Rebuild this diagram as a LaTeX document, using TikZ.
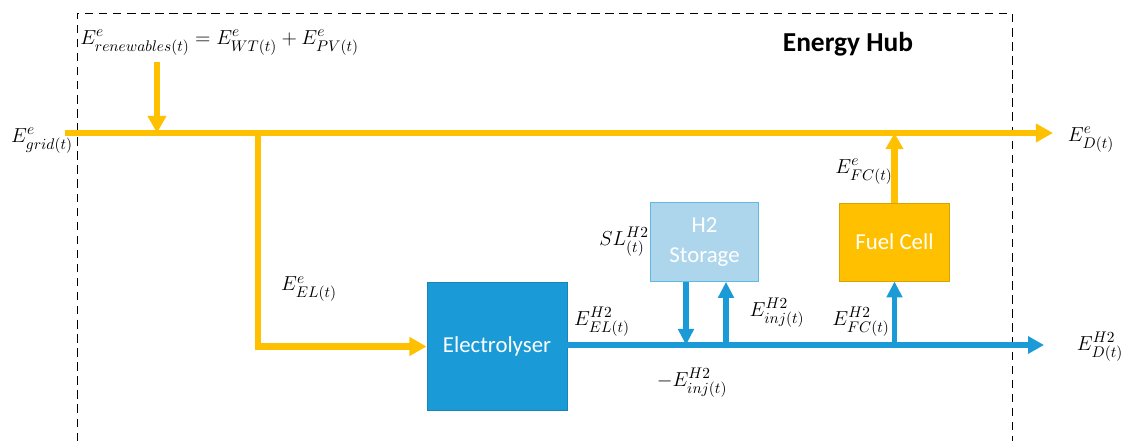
\documentclass[tikz,border=0pt]{standalone}
\usepackage{fontspec}
\setsansfont{Carlito}
\usepackage{amsmath}
\usetikzlibrary{arrows.meta,positioning}
\DeclareMathSizes{14}{14}{10.5}{8}
\definecolor{powerY}{HTML}{FFC000}
\definecolor{gasB}{HTML}{1A9BD7}
\definecolor{storeB}{HTML}{ADD6EC}
\colorlet{gasEdge}{gasB!85!black}
\colorlet{storeEdge}{gasB!70!white}
\colorlet{cellEdge}{powerY!85!black}

\begin{document}
\begin{tikzpicture}[x=0.025cm,y=-0.025cm,
    lbl/.style={font=\fontsize{14}{16}\selectfont, inner sep=0pt},
    unit/.style={draw, line width=0.6pt, text=white, align=center,
      font=\sffamily\fontsize{16.2}{19}\selectfont},
    ypipe/.style={powerY, line width=0.16cm},
    bpipe/.style={gasB, line width=0.14cm}]
        \useasboundingbox (0,0) rectangle (1121,441);
        % Hub frame (open at the bottom)
        \draw[black, line width=0.6pt, dash pattern=on 6pt off 4pt]
          (77,441) -- (77,13) -- (1012,13) -- (1012,441);
        \node[font=\sffamily\bfseries\fontsize{19.5}{22}\selectfont] (hub) at (848,44) {Energy Hub};
        % Units
        \node[unit, fill=gasB, draw=gasEdge, minimum width=3.5cm, minimum height=3.22cm] (elec) at (497,346.5) {Electrolyser};
        \node[unit, fill=storeB, draw=storeEdge, minimum width=2.72cm, minimum height=1.97cm] (store) at (704.5,242) {H2\\[2pt]Storage};
        \node[unit, fill=powerY, draw=cellEdge, minimum width=2.75cm, minimum height=1.95cm] (cell) at (894.5,242) {Fuel Cell};
        % Electricity bus
        \coordinate (gridin) at (65,133);
        \coordinate (loadE) at (1053,133);
        \coordinate (tap) at (258,133);
        \coordinate (renewA) at (157,62);
        \coordinate (renewB) at (157,133);
        \draw[ypipe, -{Triangle[length=0.43cm, width=0.45cm]}] (gridin) -- (loadE);
        \draw[ypipe, -{Triangle[length=0.43cm, width=0.45cm]}] (renewA) -- (renewB);
        \draw[ypipe, -{Triangle[length=0.43cm, width=0.45cm]}] (tap) |- (elec.west);
        \draw[ypipe, -{Triangle[length=0.4cm, width=0.42cm]}] (cell.north) -- (cell.north |- gridin);
        % Hydrogen bus
        \coordinate (hout) at (567,345);
        \coordinate (loadH) at (1044,345);
        \coordinate (sdown) at (686,345);
        \coordinate (sup) at (726,345);
        \coordinate (fcin) at (894.5,345);
        \draw[bpipe, -{Triangle[length=0.4cm, width=0.42cm]}] (hout) -- (loadH);
        \draw[bpipe, -{Triangle[length=0.4cm, width=0.38cm]}] (store.south -| sdown) -- (sdown);
        \draw[bpipe, -{Triangle[length=0.4cm, width=0.38cm]}] (sup) -- (store.south -| sup);
        \draw[bpipe, -{Triangle[length=0.4cm, width=0.38cm]}] (fcin) -- (cell.south);
        % Labels
        \node[lbl] (grid) at (42,141) {$E^{e}_{grid(t)}$};
        \node[lbl, anchor=west] (renew) at (80,43) {$E^{e}_{renewables(t)} = E^{e}_{WT(t)} + E^{e}_{PV(t)}$};
        \node[lbl] (elin) at (309,289) {$E^{e}_{EL(t)}$};
        \node[lbl] (elout) at (602,322) {$E^{H2}_{EL(t)}$};
        \node[lbl] (level) at (624,242) {$SL^{H2}_{(t)}$};
        \node[lbl] (inj) at (777,313) {$E^{H2}_{inj(t)}$};
        \node[lbl] (ninj) at (692,383) {$-E^{H2}_{inj(t)}$};
        \node[lbl] (fcH) at (861,322) {$E^{H2}_{FC(t)}$};
        \node[lbl] (fcE) at (864,172) {$E^{e}_{FC(t)}$};
        \node[lbl] (demE) at (1091,140) {$E^{e}_{D(t)}$};
        \node[lbl] (demH) at (1100,347) {$E^{H2}_{D(t)}$};
      \end{tikzpicture}
\end{document}
